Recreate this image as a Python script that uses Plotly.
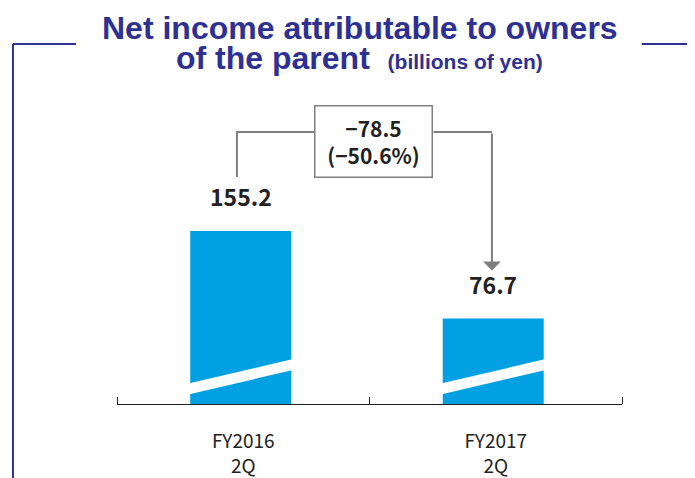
import plotly.graph_objects as go

periods = ['FY2016<br>2Q', 'FY2017<br>2Q']
net_income = [155.2, 76.7]
value_labels = ['155.2', '76.7']
change_label = '\u221278.5<br>(\u221250.6%)'

NAVY = '#2E3192'
BLUE = '#00A0E3'
GRAY = '#7F7F7F'
TXT = '#222222'
NUM_FONT = 'Noto Sans CJK JP'

xs = list(range(len(periods)))

fig = go.Figure()
fig.add_trace(go.Bar(x=xs, y=net_income, width=0.4, offset=-0.21,
                     marker=dict(color=BLUE, line=dict(width=0)), hoverinfo='skip'))

# white "broken bar" stripe near the bottom of each bar
for i in xs:
    x0, x1 = i - 0.23, i + 0.21
    slope = 52.75
    y0 = 9.0 + (x0 - (i - 0.21)) * slope
    y1 = 9.0 + (x1 - (i - 0.21)) * slope
    h = 9.8
    fig.add_shape(type='path', xref='x', yref='y', layer='above',
                  path=f'M{x0},{y0} L{x1},{y1} L{x1},{y1 + h} L{x0},{y0 + h} Z',
                  fillcolor='white', line=dict(width=0))

# value labels above bars
for i, v in enumerate(net_income):
    fig.add_annotation(x=i - 0.01, y=v, text=value_labels[i], showarrow=False,
                       yanchor='bottom', yshift=16,
                       font=dict(family=NUM_FONT, size=23, color=TXT, weight='bold'))

# change box and connector
top_y = 244
fig.add_shape(type='path', xref='x', yref='y',
              path=f'M-0.025,203.6 L-0.025,{top_y} L0.28,{top_y}',
              line=dict(color=GRAY, width=2))
fig.add_shape(type='path', xref='x', yref='y',
              path=f'M0.7535,{top_y} L0.985,{top_y}',
              line=dict(color=GRAY, width=2))
fig.add_annotation(x=0.985, y=net_income[1] + 43, ax=0.985, ay=top_y, axref='x', ayref='y',
                   xref='x', yref='y', text='', showarrow=True, arrowhead=1,
                   arrowsize=1.5, arrowwidth=2, arrowcolor=GRAY, standoff=0)
fig.add_annotation(x=0.5166, y=235.3, text=change_label, showarrow=False,
                   width=116, height=70, borderpad=0, bordercolor=GRAY, borderwidth=1.5,
                   bgcolor='white',
                   font=dict(family=NUM_FONT, size=21, color=TXT, weight='bold'))

# title
fig.add_annotation(xref='paper', yref='paper', x=0.4802, y=1.048, showarrow=False,
                   xanchor='center', yanchor='middle',
                   text='Net income attributable to owners',
                   font=dict(family='Liberation Sans', size=32, color=NAVY, weight='bold'))
fig.add_annotation(xref='paper', yref='paper', x=0.4802, y=0.9638, showarrow=False,
                   xanchor='center', yanchor='middle',
                   text='of the parent\u00a0\u00a0<span style="font-size:21px">(billions of yen)</span>',
                   font=dict(family='Liberation Sans', size=32, color=NAVY, weight='bold'))

# frame lines
for p in ['M-0.206,1.0028 L-0.0812,1.0028',
          'M-0.206,1.0028 L-0.206,-0.25',
          'M1.039,1.0028 L1.2,1.0028']:
    fig.add_shape(type='path', xref='paper', yref='paper', path=p,
                  line=dict(color=NAVY, width=2))

fig.update_layout(
    width=695, height=478,
    margin=dict(l=109, r=81, t=37, b=82),
    plot_bgcolor='white', paper_bgcolor='white',
    showlegend=False,
    xaxis=dict(range=[-0.5, 1.5], tickvals=xs, ticktext=periods, ticks='',
               showline=True, linecolor=TXT, linewidth=1, showgrid=False, zeroline=False,
               ticklabelstandoff=20, automargin=False,
               tickfont=dict(family=NUM_FONT, size=19, color=TXT),
               minor=dict(tick0=-0.5, dtick=1, ticks='inside', ticklen=7,
                          tickcolor=TXT, tickwidth=1, showgrid=False)),
    yaxis=dict(range=[0, 322.06], visible=False, automargin=False),
)

fig.write_html('out.html')
